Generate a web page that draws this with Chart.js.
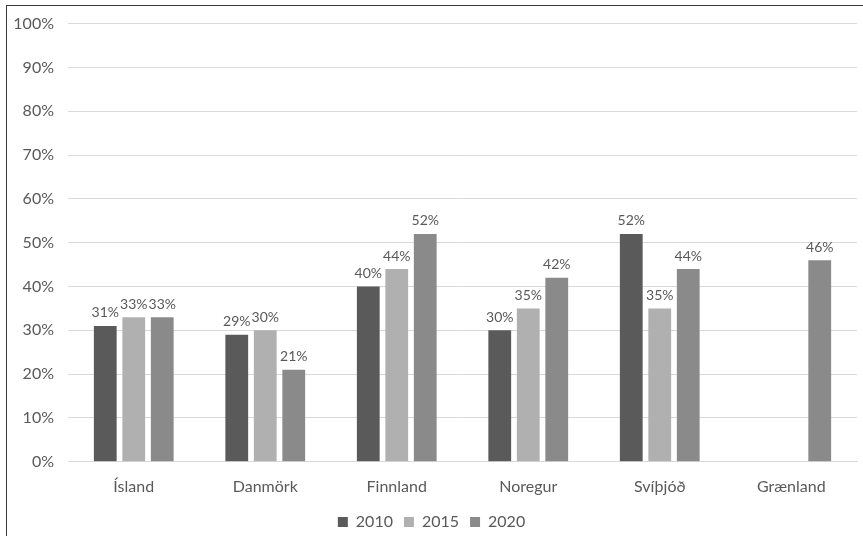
<!DOCTYPE html>
<html>
<head>
<meta charset="utf-8">
<script src="https://cdn.jsdelivr.net/npm/chart.js@4/dist/chart.umd.min.js"></script>
<style>
  html, body { margin: 0; padding: 0; background: #fff; }
  #wrap { position: absolute; left: 0; top: 0; width: 863px; height: 536px; }
</style>
</head>
<body>
<div id="wrap"><canvas id="chart"></canvas></div>
<script>
// Chart data
const countries = ['Ísland', 'Danmörk', 'Finnland', 'Noregur', 'Svíþjóð', 'Grænland'];
const years = ['2010', '2015', '2020'];
const values2010 = [31, 29, 40, 30, 52, null];
const values2015 = [33, 30, 44, 35, 35, null];
const values2020 = [33, 21, 52, 42, 44, 46];
const yTicks = [0, 10, 20, 30, 40, 50, 60, 70, 80, 90, 100];

const colors = ['#5a5a5a', '#b0b0b0', '#8a8a8a'];
const textColor = '#595959';
const fontFamily = 'Lato, "Open Sans", sans-serif';

// draws the value above each bar
const barLabels = {
  id: 'barLabels',
  afterDatasetsDraw(chart) {
    const ctx = chart.ctx;
    ctx.save();
    ctx.fillStyle = textColor;
    ctx.font = '14px ' + fontFamily;
    ctx.textAlign = 'center';
    ctx.textBaseline = 'bottom';
    chart.data.datasets.forEach((ds, i) => {
      chart.getDatasetMeta(i).data.forEach((bar, j) => {
        if (ds.data[j] == null) return;
        ctx.fillText(ds.data[j] + '%', bar.x, bar.y - 6);
      });
    });
    ctx.restore();
  }
};

// outer frame like the original
const frame = {
  id: 'frame',
  beforeDraw(chart) {
    const ctx = chart.ctx;
    ctx.save();
    ctx.fillStyle = '#fff';
    ctx.fillRect(0, 0, chart.width, chart.height);
    ctx.strokeStyle = '#3a3a3a';
    ctx.lineWidth = 1;
    ctx.strokeRect(6.5, 5.5, 1000, 1000);
    ctx.restore();
  }
};

new Chart(document.getElementById('chart'), {
  type: 'bar',
  data: {
    labels: countries,
    datasets: [
      { label: years[0], data: values2010, backgroundColor: colors[0] },
      { label: years[1], data: values2015, backgroundColor: colors[1] },
      { label: years[2], data: values2020, backgroundColor: colors[2] }
    ]
  },
  options: {
    responsive: true,
    maintainAspectRatio: false,
    animation: false,
    categoryPercentage: 0.65,
    barPercentage: 0.8,
    layout: { padding: { left: 6, right: 6, top: 23, bottom: -4 } },
    plugins: {
      legend: {
        position: 'bottom',
        labels: {
          color: textColor,
          font: { family: fontFamily, size: 16 },
          boxWidth: 10,
          boxHeight: 10,
          padding: 11
        }
      },
      tooltip: { enabled: false }
    },
    scales: {
      x: {
        grid: { display: false },
        border: { color: '#d9d9d9' },
        ticks: { color: textColor, font: { family: fontFamily, size: 16 }, padding: 7 }
      },
      y: {
        min: 0,
        max: 100,
        afterFit(scale) { scale.width = 62; },
        afterBuildTicks(scale) { scale.ticks = yTicks.map(v => ({ value: v })); },
        grid: { color: '#d9d9d9', drawTicks: false },
        border: { display: false },
        ticks: {
          color: textColor,
          font: { family: fontFamily, size: 16 },
          padding: 14,
          callback: v => v + '%'
        }
      }
    }
  },
  plugins: [frame, barLabels]
});
</script>
</body>
</html>
